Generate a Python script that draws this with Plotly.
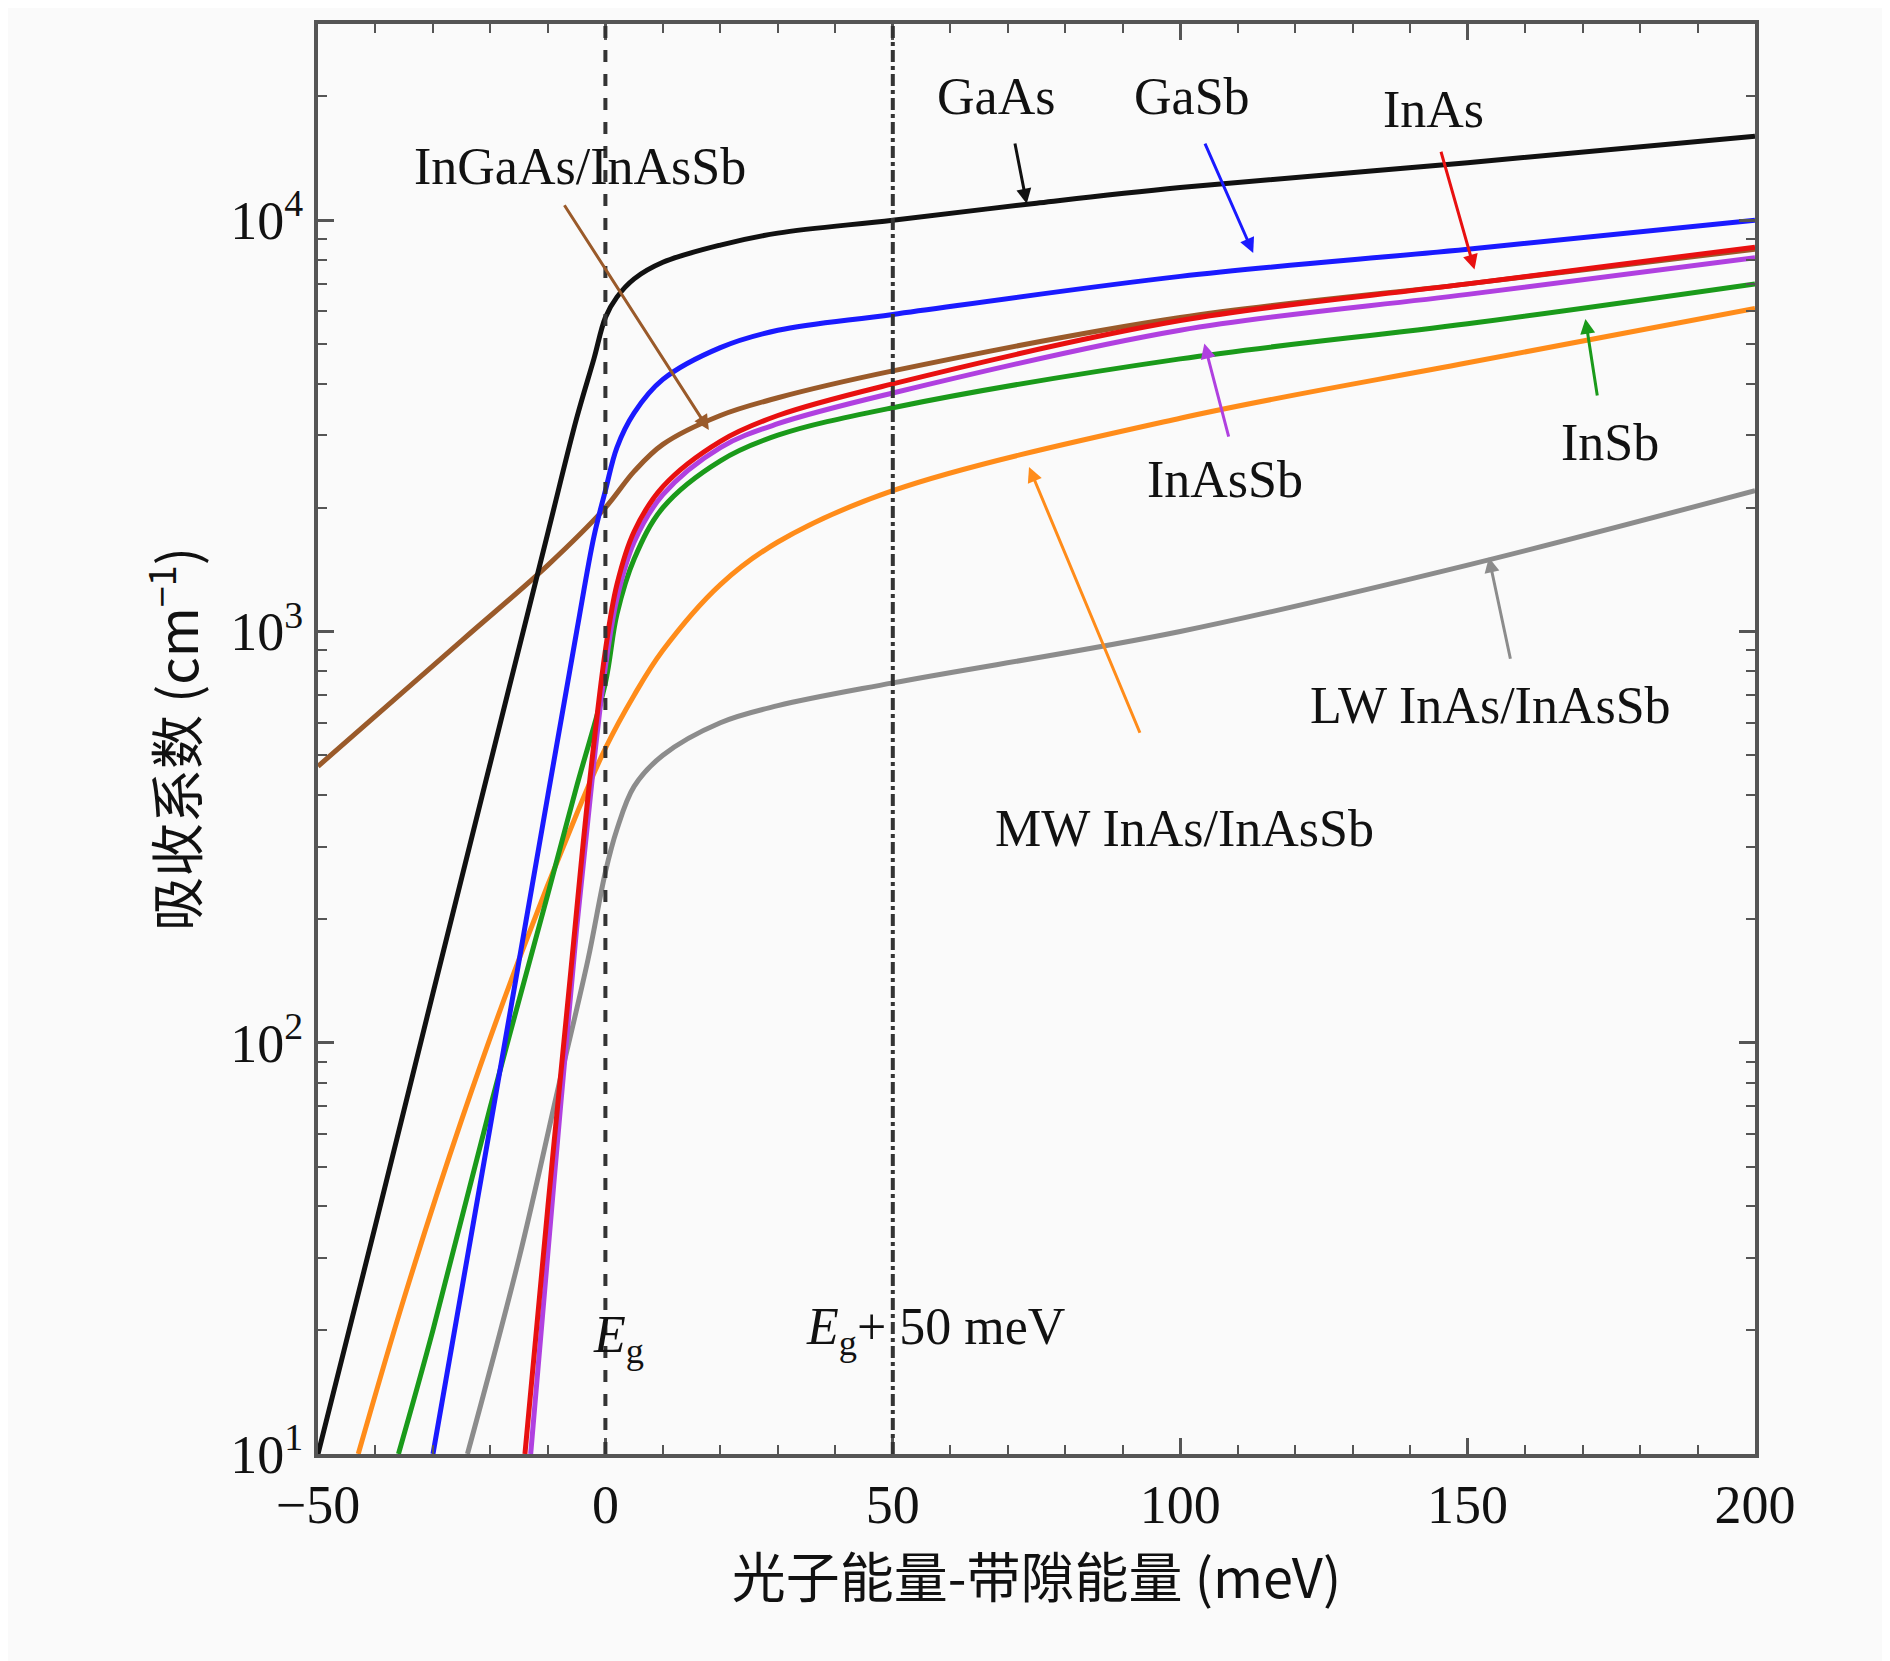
import plotly.graph_objects as go

# photon energy minus band gap (meV) and absorption coefficient (cm^-1)
gaas_x = [-50, -40, -30, -20, -10, -5, -2, 0, 2, 5, 10, 20, 30, 50, 75, 100, 150, 200]
gaas_y = [10, 36, 132, 480, 1740, 3300, 4600, 5800, 6500, 7200, 7900, 8700, 9300, 10000, 11000, 12000, 13800, 16000]

gasb_x = [-30, -20, -10, -5, -2, 0, 2, 5, 10, 20, 30, 50, 100, 150, 200]
gasb_y = [10, 63, 400, 1000, 1700, 2200, 2800, 3400, 4100, 4900, 5400, 5900, 7300, 8500, 10000]

inas_x = [-14, -10, -6, -3, 0, 2, 5, 10, 20, 30, 50, 100, 150, 200]
inas_y = [10, 40, 150, 400, 900, 1300, 1750, 2250, 2900, 3350, 4000, 5700, 7000, 8600]

inassb_x = [-13, -9, -5, -2, 0, 2, 5, 10, 20, 30, 50, 100, 150, 200]
inassb_y = [10, 45, 190, 480, 820, 1200, 1650, 2150, 2800, 3200, 3800, 5400, 6600, 8100]

insb_x = [-36, -30, -20, -10, -5, 0, 2, 5, 10, 20, 30, 50, 100, 150, 200]
insb_y = [10, 20, 70, 230, 420, 750, 1100, 1500, 2000, 2600, 3000, 3500, 4600, 5600, 7000]

mw_x = [-43, -35, -25, -15, -5, 0, 5, 10, 20, 30, 50, 100, 150, 200]
mw_y = [10, 24, 65, 160, 360, 520, 700, 900, 1300, 1650, 2200, 3300, 4500, 6100]

lw_x = [-24, -15, -8, -3, 0, 2, 5, 10, 20, 30, 50, 100, 150, 200]
lw_y = [10, 30, 80, 160, 260, 330, 420, 500, 600, 660, 750, 1000, 1450, 2200]

ingaas_x = [-50, -25, -10, 0, 5, 10, 20, 30, 50, 100, 150, 200]
ingaas_y = [470, 950, 1450, 2000, 2450, 2850, 3350, 3700, 4300, 5800, 7000, 8500]

series = [
    (ingaas_x, ingaas_y, "#9a5a2a"),
    (lw_x, lw_y, "#8c8c8c"),
    (mw_x, mw_y, "#ff8c1a"),
    (insb_x, insb_y, "#1a9a1a"),
    (inassb_x, inassb_y, "#b040e0"),
    (inas_x, inas_y, "#e81010"),
    (gasb_x, gasb_y, "#1a1aff"),
    (gaas_x, gaas_y, "#111111"),
]

fig = go.Figure()
for xs, ys, c in series:
    fig.add_trace(go.Scatter(x=xs, y=ys, mode="lines", line=dict(color=c, width=5, shape="spline", smoothing=1.0),
                             showlegend=False))

fig.add_shape(type="line", x0=0, x1=0, y0=0, y1=1, yref="paper", line=dict(color="#333", width=4, dash="dash"))
fig.add_shape(type="line", x0=50, x1=50, y0=0, y1=1, yref="paper", line=dict(color="#333", width=4, dash="dashdot"))

serif = "Liberation Serif, DejaVu Serif, serif"
# label text, label pos (x, log10 y), arrow head, arrow tail, colour
labels = [
    ("GaAs", 68, 4.30, 73.3, 4.04, 71.2, 4.19, "#111111"),
    ("GaSb", 102, 4.30, 112.7, 3.92, 104.2, 4.19, "#1a1aff"),
    ("InAs", 144, 4.27, 151.2, 3.88, 145.3, 4.17, "#e81010"),
    ("InGaAs/InAsSb", -4.5, 4.13, 18, 3.49, -7.3, 4.04, "#9a5a2a"),
    ("InAsSb", 107.8, 3.37, 104.2, 3.70, 108.5, 3.47, "#b040e0"),
    ("InSb", 174.7, 3.46, 170.5, 3.76, 172.6, 3.57, "#1a9a1a"),
    ("LW InAs/InAsSb", 154, 2.82, 153.7, 3.18, 157.5, 2.93, "#8c8c8c"),
    ("MW InAs/InAsSb", 100.7, 2.52, 73.7, 3.40, 93.1, 2.75, "#ff8c1a"),
]
for t, lx, ly, hx, hy, tx, ty, c in labels:
    fig.add_annotation(x=lx, y=ly, text=t, showarrow=False, font=dict(family=serif, size=52, color="#111"))
    fig.add_annotation(x=hx, y=hy, ax=tx, ay=ty, axref="x", ayref="y", text="", showarrow=True,
                       arrowhead=2, arrowsize=1, arrowwidth=3, arrowcolor=c)
fig.add_annotation(x=2.2, y=1.28, text="<i>E</i><sub>g</sub>", showarrow=False, font=dict(family=serif, size=52, color="#111"))
fig.add_annotation(x=57.5, y=1.30, text="<i>E</i><sub>g</sub>+ 50 meV", showarrow=False, font=dict(family=serif, size=52, color="#111"))

tick_vals = [10, 100, 1000, 10000]
tick_text = ["10<sup>1</sup>", "10<sup>2</sup>", "10<sup>3</sup>", "10<sup>4</sup>"]
minor_y = [m * d for d in [10, 100, 1000, 10000] for m in range(2, 10)]

axis_common = dict(showgrid=False, zeroline=False, ticks="inside", mirror="allticks", showline=True,
                   linecolor="#555", linewidth=4, tickcolor="#555", tickwidth=3, ticklen=16,
                   tickfont=dict(family=serif, size=54, color="#111"))
fig.update_xaxes(range=[-50, 200], tickvals=[-50, 0, 50, 100, 150, 200], ticktext=["−50", "0", "50", "100", "150", "200"],
                 minor=dict(ticks="inside", tickvals=list(range(-40, 200, 10)), ticklen=9, tickcolor="#555", tickwidth=2),
                 title=dict(text="光子能量-带隙能量 (meV)", font=dict(family="Noto Sans CJK SC", size=54, color="#111")),
                 **axis_common)
fig.update_yaxes(type="log", range=[1, 4.477], tickvals=tick_vals, ticktext=tick_text,
                 minor=dict(ticks="inside", tickvals=minor_y, ticklen=9, tickcolor="#555", tickwidth=2, showgrid=False),
                 title=dict(text="吸收系数 (cm<sup>−1</sup>)", font=dict(family="Noto Sans CJK SC", size=54, color="#111")),
                 **axis_common)
fig.update_layout(width=1890, height=1661, margin=dict(l=310, r=143, t=14, b=215),
                  plot_bgcolor="#fafafa", paper_bgcolor="#fafafa")
fig.write_html("out.html")
